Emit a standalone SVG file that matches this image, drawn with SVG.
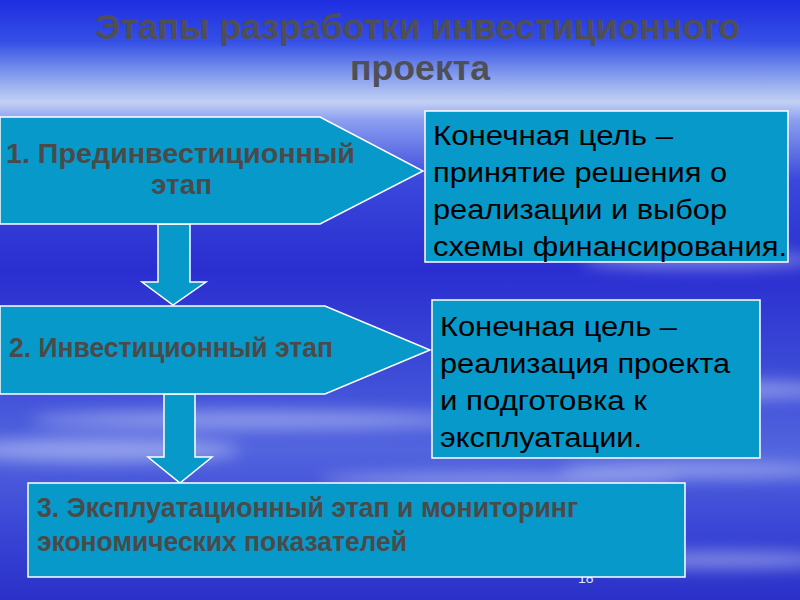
<svg xmlns="http://www.w3.org/2000/svg" width="800" height="600" viewBox="0 0 800 600">
<defs>
<linearGradient id="sky" x1="0" y1="0" x2="0" y2="1">
<stop offset="0" stop-color="#1e2de0"/>
<stop offset="0.07" stop-color="#3550e6"/>
<stop offset="0.13" stop-color="#8aa2ee"/>
<stop offset="0.17" stop-color="#c3d0f4"/>
<stop offset="0.2" stop-color="#8c9ff0"/>
<stop offset="0.3" stop-color="#3a48dc"/>
<stop offset="0.45" stop-color="#2a2ed0"/>
<stop offset="0.6" stop-color="#3a48d6"/>
<stop offset="0.75" stop-color="#5264de"/>
<stop offset="0.88" stop-color="#3a46d6"/>
<stop offset="1" stop-color="#2a30c8"/>
</linearGradient>
<filter id="blur" x="-20%" y="-50%" width="140%" height="200%"><feGaussianBlur stdDeviation="8"/></filter>
<style>
.box{fill:#0799c9;stroke:#ffffff;stroke-width:1.5}
.stage{font-family:"Liberation Sans",Arial,sans-serif;font-weight:bold;fill:#4a4a4a}
.goal{font-family:"Liberation Sans",Arial,sans-serif;font-size:27px;fill:#000000}
.title{font-family:"Liberation Sans",Arial,sans-serif;font-weight:bold;font-size:35px;fill:#4f4f58}
</style>
</defs>
<rect x="0" y="0" width="800" height="600" fill="url(#sky)"/>
<g filter="url(#blur)" fill="#c8d2f8" opacity="0.55">
<ellipse cx="120" cy="360" rx="150" ry="10"/>
<ellipse cx="250" cy="420" rx="220" ry="9"/>
<ellipse cx="100" cy="450" rx="140" ry="12"/>
<ellipse cx="650" cy="390" rx="200" ry="10"/>
<ellipse cx="700" cy="470" rx="140" ry="8"/>
<ellipse cx="500" cy="480" rx="180" ry="7"/>
<ellipse cx="720" cy="560" rx="120" ry="8"/>
<ellipse cx="700" cy="260" rx="120" ry="8"/>
</g>
<g id="title">
<text class="title" x="95" y="39" textLength="645" lengthAdjust="spacingAndGlyphs">Этапы разработки инвестиционного</text>
<text class="title" x="350" y="80" textLength="140" lengthAdjust="spacingAndGlyphs">проекта</text>
</g>
<text x="578" y="583" font-family="Liberation Sans,Arial,sans-serif" font-size="14" fill="#dfe6ff">18</text>
<g id="connectors">
<polygon class="box" points="158,224 190,224 190,282 206,282 173,305 142,282 158,282"/>
<polygon class="box" points="164,394 195,394 195,457 212,457 180,483 148,457 164,457"/>
</g>
<g id="stage1">
<polygon class="box" points="0,117 320,117 423,171 320,224 0,224"/>
<text class="stage" font-size="27" x="6" y="163" textLength="349" lengthAdjust="spacingAndGlyphs">1. Прединвестиционный</text>
<text class="stage" font-size="27" x="151" y="194" textLength="61" lengthAdjust="spacingAndGlyphs">этап</text>
</g>
<g id="stage2">
<polygon class="box" points="0,306 325,306 430,350 325,394 0,394"/>
<text class="stage" font-size="27" x="9" y="357" textLength="324" lengthAdjust="spacingAndGlyphs">2. Инвестиционный этап</text>
</g>
<g id="stage3">
<rect class="box" x="28" y="483" width="657" height="94"/>
<text class="stage" font-size="28" x="37" y="517" textLength="541" lengthAdjust="spacingAndGlyphs">3. Эксплуатационный этап и мониторинг</text>
<text class="stage" font-size="28" x="37" y="551" textLength="370" lengthAdjust="spacingAndGlyphs">экономических показателей</text>
</g>
<g id="goal1">
<rect class="box" x="425" y="111" width="363" height="151"/>
<text class="goal" x="433" y="145" textLength="240" lengthAdjust="spacingAndGlyphs">Конечная цель –</text>
<text class="goal" x="433" y="182" textLength="294" lengthAdjust="spacingAndGlyphs">принятие решения о</text>
<text class="goal" x="433" y="219" textLength="294" lengthAdjust="spacingAndGlyphs">реализации и выбор</text>
<text class="goal" x="433" y="256" textLength="354" lengthAdjust="spacingAndGlyphs">схемы финансирования.</text>
</g>
<g id="goal2">
<rect class="box" x="432" y="300" width="328" height="158"/>
<text class="goal" x="440" y="336" textLength="237" lengthAdjust="spacingAndGlyphs">Конечная цель –</text>
<text class="goal" x="440" y="373" textLength="290" lengthAdjust="spacingAndGlyphs">реализация проекта</text>
<text class="goal" x="440" y="410" textLength="207" lengthAdjust="spacingAndGlyphs">и подготовка к</text>
<text class="goal" x="440" y="447" textLength="202" lengthAdjust="spacingAndGlyphs">эксплуатации.</text>
</g>
</svg>
